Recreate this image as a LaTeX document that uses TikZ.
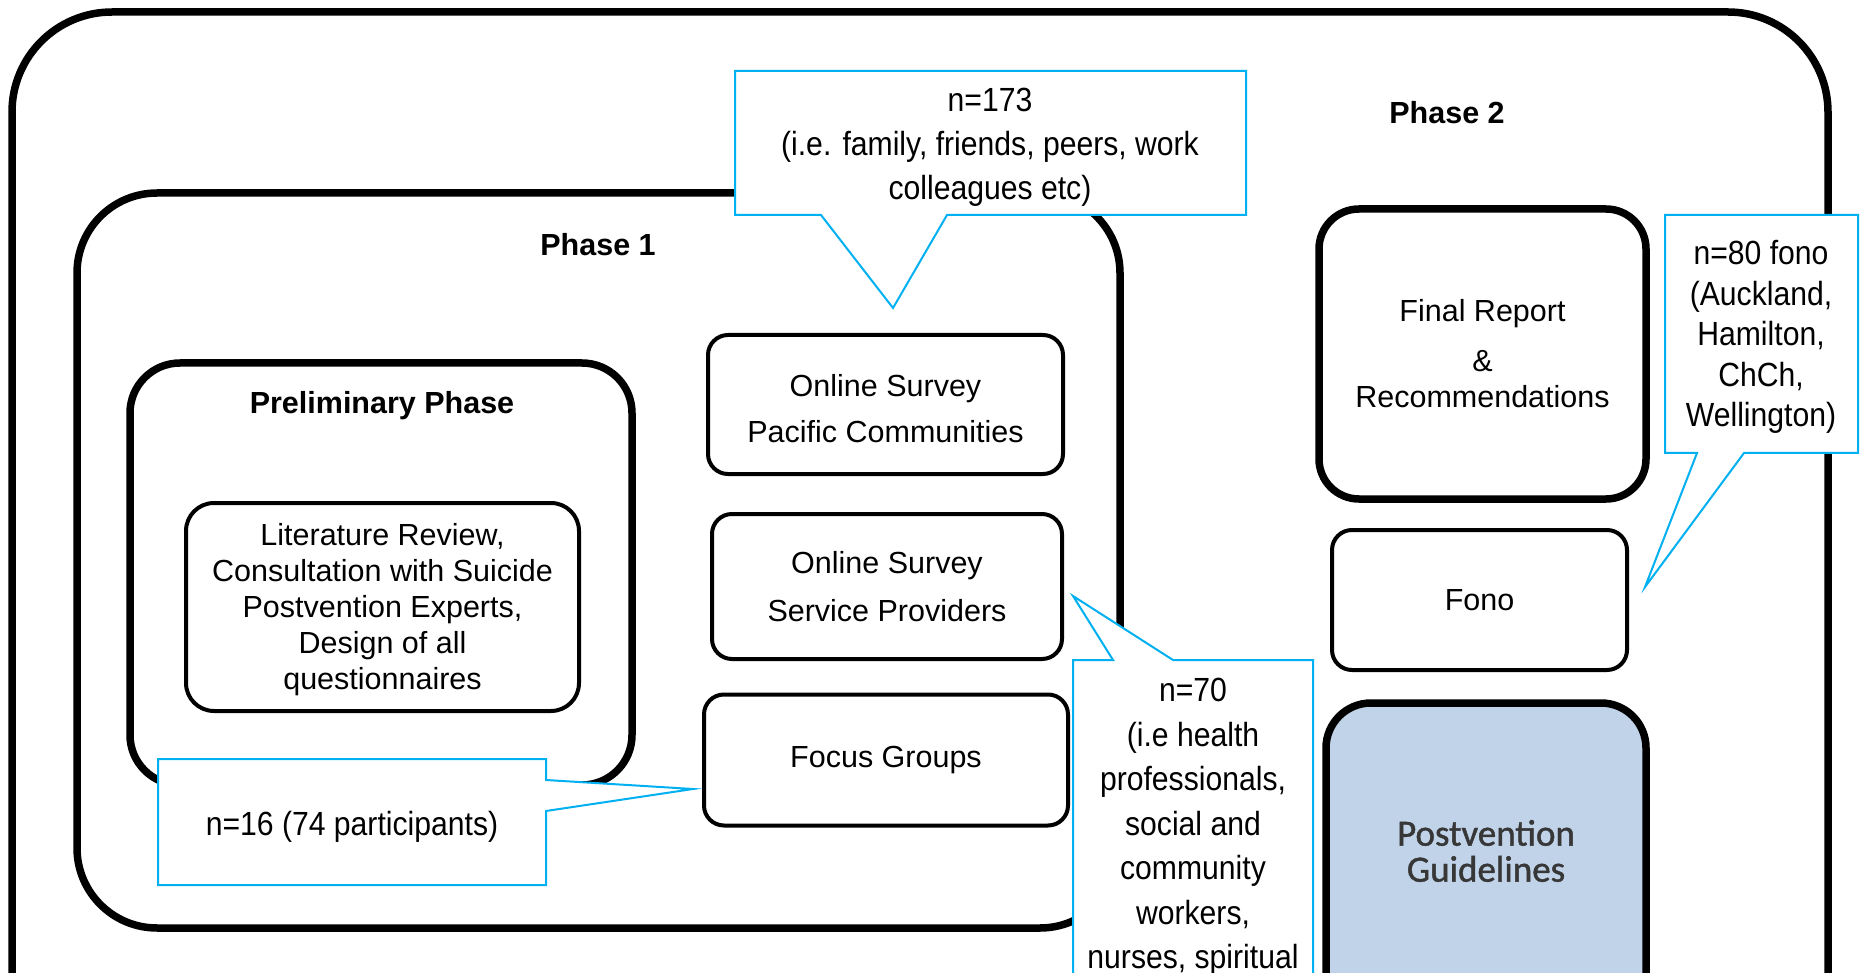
\documentclass[tikz,border=0pt]{standalone}
\usepackage{fontspec}
\setmainfont{Liberation Sans}
\newfontfamily\callfont[FakeStretch=0.9]{Liberation Sans}
\newfontfamily\postfont[FakeBold=1.2]{Carlito}
\definecolor{callblue}{RGB}{0,176,240}
\definecolor{postfill}{RGB}{193,211,232}
\definecolor{posttext}{RGB}{55,55,55}
\tikzset{
  frameline/.style={draw=black, line width=7.5pt},
  thinbox/.style={draw=black, line width=4pt, rounded corners=20pt, align=center, inner sep=0pt},
  thickbox/.style={draw=black, line width=7.5pt, rounded corners=40pt, align=center, inner sep=0pt},
  boxfont/.style={font=\fontsize{30.5}{#1}\selectfont},
  phaselbl/.style={inner sep=0pt, font=\bfseries\fontsize{30.5}{36}\selectfont},
  callshape/.style={draw=callblue, fill=white, line width=2pt, line join=miter},
  calltext/.style={inner sep=0pt, align=center, font=\callfont\fontsize{33.5}{#1}\selectfont}
}
\begin{document}
\begin{tikzpicture}[x=1pt,y=-1pt]
\useasboundingbox (0,0) rectangle (1864,973);
\clip (0,0) rectangle (1864,973);
\fill[white] (0,0) rectangle (1864,973);

% frames
\draw[frameline, rounded corners=100pt] (12,12) rectangle (1828,1200);
\draw[frameline, rounded corners=80pt] (77,193) rectangle (1120,928);
\draw[frameline, rounded corners=50pt] (130,363) rectangle (632,785);

% labels
\node[phaselbl] (phase2) at (1447,113) {Phase 2};
\node[phaselbl] (phase1) at (598,245) {Phase 1};
\node[phaselbl] (prelim) at (382,406) {Preliminary Phase};

% boxes
\node[thinbox, rounded corners=28pt, minimum width=393pt, minimum height=208pt] (lit) at (382.5,607) {};
\node[inner sep=0pt, align=center, boxfont=36] (littxt) at (382.5,610)
  {Literature Review,\\Consultation with Suicide\\Postvention Experts,\\Design of all\\questionnaires};
\node[thinbox, minimum width=355pt, minimum height=139pt] (ospc) at (885.5,404.5) {};
\node[inner sep=0pt, align=center, boxfont=46] (ospctxt) at (885.5,409)
  {Online Survey\\Pacific Communities};
\node[thinbox, boxfont=48, minimum width=350pt, minimum height=145pt] (ossp) at (887,586.5)
  {Online Survey\\Service Providers};
\node[thinbox, boxfont=36, minimum width=364pt, minimum height=131pt] (focus) at (886,760)
  {Focus Groups};
\node[thickbox, boxfont=36, minimum width=327pt, minimum height=290pt] (final) at (1482.5,354)
  {Final Report\\[14pt]\&\\Recommendations};
\node[thinbox, boxfont=36, minimum width=295pt, minimum height=140pt] (fono) at (1479.5,600)
  {Fono};
\node[thickbox, fill=postfill, rounded corners=45pt, minimum width=320pt, minimum height=500pt] (post) at (1486,953) {};
\node[inner sep=0pt, align=center, text=posttext, font=\postfont\fontsize{37}{36}\selectfont] (posttxt) at (1486,851)
  {Postvention\\Guidelines};

% callout pointer tips
\coordinate (t1) at (893,308);
\coordinate (t2) at (1645,587);
\coordinate (t3) at (1073,596);
\coordinate (t4) at (693,789);

% callouts
\draw[callshape] (735,71) -- (1246,71) -- (1246,215) -- (947,215) -- (t1) -- (821,215) -- (735,215) -- cycle;
\node[calltext=44] (c1) at (990,147) {n=173\\(i.e. family, friends, peers, work\\colleagues etc)};

\draw[callshape] (1665,215) -- (1858,215) -- (1858,453) -- (1744,453) -- (t2) -- (1697,453) -- (1665,453) -- cycle;
\node[calltext=40.5] (c2) at (1761,337) {n=80 fono\\(Auckland,\\Hamilton,\\ChCh,\\Wellington)};

\draw[callshape] (1073,660) -- (1113,660) -- (t3) -- (1173,660) -- (1313,660) -- (1313,1100) -- (1073,1100) -- cycle;
\node[calltext=44.5, anchor=north] (c3) at (1193,678) {n=70\\(i.e health\\professionals,\\social and\\community\\workers,\\nurses, spiritual};

\draw[callshape] (158,759) -- (546,759) -- (546,780) -- (t4) -- (546,811) -- (546,885) -- (158,885) -- cycle;
\node[calltext=40] (c4) at (352,827) {n=16 (74 participants)};
\end{tikzpicture}
\end{document}
